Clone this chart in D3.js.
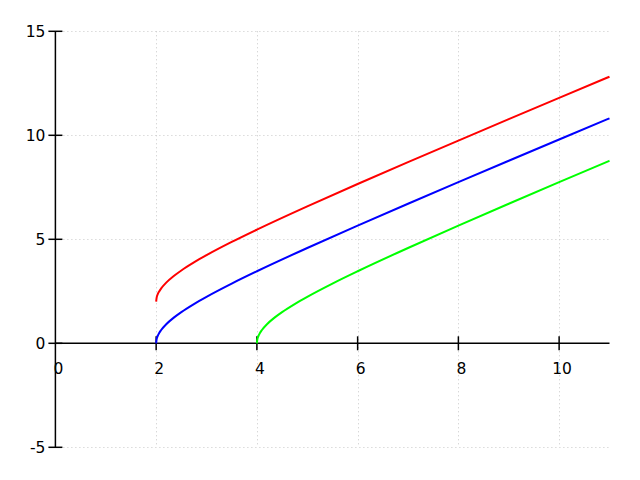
<!DOCTYPE html>
<html>
<head>
<meta charset="utf-8">
<script src="https://cdn.jsdelivr.net/npm/d3@7"></script>
<style>
  body { margin: 0; background: #fff; }
  svg { display: block; }
  text { font-family: 'DejaVu Sans', sans-serif; font-size: 15.5px; fill: #000; }
</style>
</head>
<body>
<div id="chart"></div>
<script>
// ////////////////////////////////////////////////////////////////////////////
// DATA
// ////////////////////////////////////////////////////////////////////////////
const xTicks = [0, 2, 4, 6, 8, 10];
const yTicks = [-5, 0, 5, 10, 15];

const blueX = [2, 2.01, 2.03, 2.06, 2.1, 2.2, 2.35, 2.5, 2.75, 3, 3.5, 4, 5, 6, 7, 8, 9, 10, 11];
const blueY = [0, 0.2, 0.348, 0.494, 0.64, 0.917, 1.234, 1.5, 1.887, 2.236, 2.872, 3.464, 4.583, 5.657, 6.708, 7.746, 8.775, 9.798, 10.817];

const redX = [2, 2.01, 2.03, 2.06, 2.1, 2.2, 2.35, 2.5, 2.75, 3, 3.5, 4, 5, 6, 7, 8, 9, 10, 11];
const redY = [2, 2.2, 2.348, 2.494, 2.64, 2.917, 3.234, 3.5, 3.887, 4.236, 4.872, 5.464, 6.583, 7.657, 8.708, 9.746, 10.775, 11.798, 12.817];

const greenX = [4, 4.01, 4.03, 4.06, 4.1, 4.2, 4.35, 4.5, 4.75, 5, 5.5, 6, 7, 8, 9, 10, 11];
const greenY = [0, 0.2, 0.348, 0.494, 0.64, 0.917, 1.234, 1.5, 1.887, 2.236, 2.872, 3.464, 4.583, 5.657, 6.708, 7.746, 8.775];

const series = [
  { name: 'red', color: '#ff0000', xs: redX, ys: redY },
  { name: 'blue', color: '#0000ff', xs: blueX, ys: blueY },
  { name: 'green', color: '#00ff00', xs: greenX, ys: greenY },
];

// ////////////////////////////////////////////////////////////////////////////
// SETUP
// ////////////////////////////////////////////////////////////////////////////
const width = 640;
const height = 480;

const svg = d3.select('#chart').append('svg')
  .attr('width', width)
  .attr('height', height);

const x = d3.scaleLinear().domain([0, 11]).range([55.4, 609.5]);
const y = d3.scaleLinear().domain([-5, 15]).range([447.3, 31.3]);

// GRID
const grid = svg.append('g').attr('class', 'grid')
  .attr('stroke', '#c8c8c8')
  .attr('stroke-width', 1)
  .attr('stroke-dasharray', '1,3');

grid.selectAll('.vgrid')
  .data(xTicks.filter(d => d !== 0))
  .enter().append('line')
    .attr('x1', d => Math.round(x(d)) + 0.5)
    .attr('x2', d => Math.round(x(d)) + 0.5)
    .attr('y1', y(15))
    .attr('y2', y(-5));

grid.selectAll('.hgrid')
  .data(yTicks.filter(d => d !== 0))
  .enter().append('line')
    .attr('x1', x(0))
    .attr('x2', x(11))
    .attr('y1', d => Math.round(y(d)) + 0.5)
    .attr('y2', d => Math.round(y(d)) + 0.5);

// AXES
const axes = svg.append('g').attr('stroke', '#000').attr('stroke-width', 1.5);

axes.append('line')
  .attr('x1', x(0)).attr('x2', x(0))
  .attr('y1', y(15)).attr('y2', y(-5));

axes.append('line')
  .attr('x1', x(0)).attr('x2', x(11))
  .attr('y1', y(0)).attr('y2', y(0));

axes.selectAll('.ytick')
  .data(yTicks)
  .enter().append('line')
    .attr('x1', x(0) - 7).attr('x2', x(0) + 7)
    .attr('y1', d => y(d)).attr('y2', d => y(d));

axes.selectAll('.xtick')
  .data(xTicks.filter(d => d !== 0))
  .enter().append('line')
    .attr('x1', d => x(d)).attr('x2', d => x(d))
    .attr('y1', y(0) - 7).attr('y2', y(0) + 7);

svg.selectAll('.ylabel')
  .data(yTicks)
  .enter().append('text')
    .attr('x', x(0) - 10)
    .attr('y', d => y(d) + 6)
    .style('text-anchor', 'end')
    .text(d => d);

svg.selectAll('.xlabel')
  .data(xTicks)
  .enter().append('text')
    .attr('x', d => x(d) + 3)
    .attr('y', y(0) + 31)
    .style('text-anchor', 'middle')
    .text(d => d);

// CURVES
const line = d3.line()
  .x(d => x(d[0]))
  .y(d => y(d[1]))
  .curve(d3.curveMonotoneX);

svg.selectAll('.curve')
  .data(series)
  .enter().append('path')
    .attr('class', 'curve')
    .attr('fill', 'none')
    .attr('stroke', d => d.color)
    .attr('stroke-width', 2)
    .attr('d', d => line(d.xs.map((v, i) => [v, d.ys[i]])));
</script>
</body>
</html>
